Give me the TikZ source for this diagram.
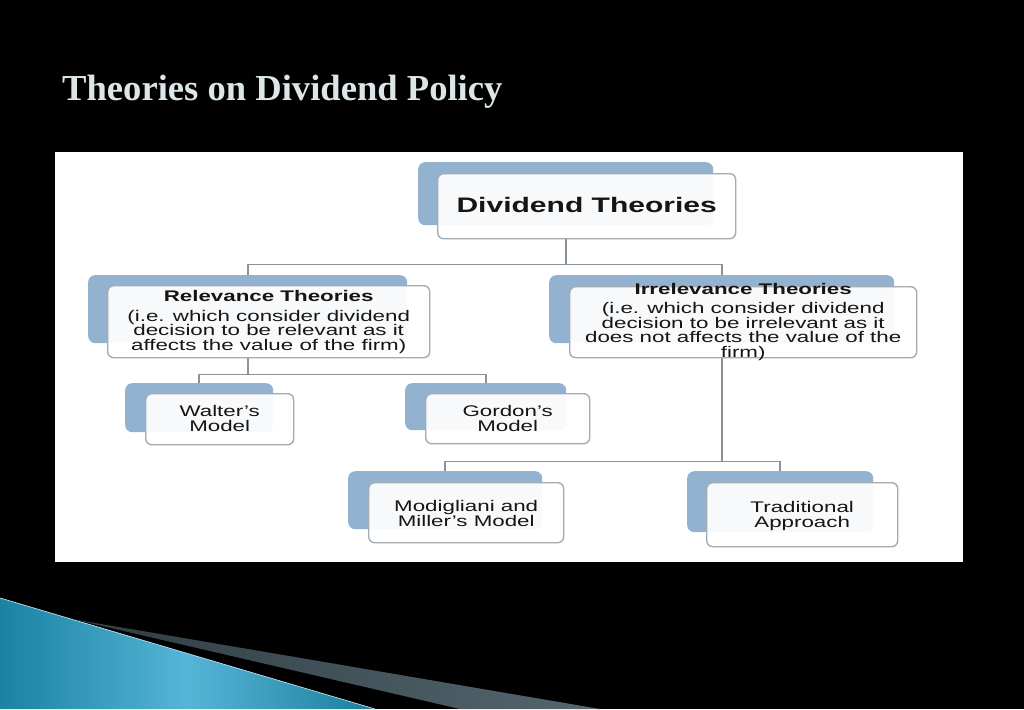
\documentclass[tikz,border=0pt]{standalone}
\usepackage{fontspec}
\newfontfamily\wfont[FakeStretch=1.45]{Liberation Sans}
\newfontfamily\wbfont[FakeStretch=1.43]{Liberation Sans}
\newfontfamily\titlefont{Liberation Serif}
\definecolor{bk}{HTML}{93B2CF}
\definecolor{fr}{HTML}{A3ABB3}
\definecolor{cn}{HTML}{8A9299}
\definecolor{txtc}{HTML}{151515}
\definecolor{ttl}{HTML}{DCE6E6}
\definecolor{tealA}{HTML}{1A82A3}
\definecolor{tealB}{HTML}{55B5D6}
\definecolor{tealC}{HTML}{1C7E9E}
\definecolor{grA}{HTML}{2E3D44}
\definecolor{grB}{HTML}{56666E}
\tikzset{
  bbox/.style={fill=bk, rounded corners=7pt, inner sep=0pt, anchor=north west, draw=none},
  frontbox/.style={draw=fr, line width=1.4pt, fill=white, fill opacity=0.93, rounded corners=6pt, inner sep=0pt, anchor=north west},
  txt/.style={align=center, text=txtc, inner sep=0pt, font=\wfont\fontsize{15.4}{14.7}\selectfont},
  conn/.style={draw=cn, line width=1.8pt}
}
\begin{document}
\begin{tikzpicture}[x=1pt,y=-1pt]
\useasboundingbox (0,0) rectangle (1024,709);
\fill[black] (0,0) rectangle (1024,709);
% title
\node[anchor=base west, inner sep=0pt, text=ttl, font=\titlefont\bfseries\fontsize{36.6}{40}\selectfont] (title) at (62,100) {Theories on Dividend Policy};
% panel
\fill[white] (55,152) rectangle (963,562);
% bottom decoration
\shade[left color=tealA, right color=tealC, middle color=tealB] (0,598) -- (375,709) -- (0,709) -- cycle;
\draw[white!60!tealB, line width=0.7pt] (0,598) -- (375,709);
\shade[left color=grA, right color=grB] (72,619) -- (600,709) -- (460,709) -- cycle;
% back boxes
\node[bbox, minimum width=295pt, minimum height=63pt] (dtb) at (418,162) {};
\node[bbox, minimum width=319pt, minimum height=68pt] (rlb) at (88,275) {};
\node[bbox, minimum width=345pt, minimum height=68pt] (irb) at (549,275) {};
\node[bbox, minimum width=148pt, minimum height=49pt] (wab) at (125,383) {};
\node[bbox, minimum width=161pt, minimum height=47pt] (gob) at (405,383) {};
\node[bbox, minimum width=194pt, minimum height=58pt] (mob) at (348,471) {};
\node[bbox, minimum width=186pt, minimum height=61pt] (trb) at (687,471) {};
% front boxes
\node[frontbox, minimum width=298pt, minimum height=65pt] (dt) at (437,173) {};
\node[frontbox, minimum width=322pt, minimum height=72pt] (rl) at (107,285) {};
\node[frontbox, minimum width=347pt, minimum height=71pt] (ir) at (569,286) {};
\node[frontbox, minimum width=148pt, minimum height=51pt] (wa) at (145,393) {};
\node[frontbox, minimum width=164pt, minimum height=50pt] (go) at (425,393) {};
\node[frontbox, minimum width=195pt, minimum height=60pt] (mo) at (368,482) {};
\node[frontbox, minimum width=191pt, minimum height=64pt] (tr) at (706,482) {};
% connectors
\draw[conn] (dtb.center |- dt.south) -- ++(0,25) coordinate (j1);
\draw[conn] (rlb.north) |- (j1) -| (irb.north);
\draw[conn] (rlb.center |- rl.south) -- ++(0,16) coordinate (j2);
\draw[conn] (wab.north) |- (j2) -| (gob.north);
\draw[conn] (irb.center |- ir.south) -- ++(0,103) coordinate (j3);
\draw[conn] (mob.north) |- (j3) -| (trb.north);
% texts
\node[txt, font=\wbfont\bfseries\fontsize{21}{22}\selectfont] (dtt) at ([yshift=1pt]dt.center) {Dividend Theories};
\node[txt] (rlt) at ([yshift=-0.5pt]rl.center) {{\bfseries Relevance Theories}\\[4.5pt](i.e. which consider dividend\\decision to be relevant as it\\affects the value of the firm)};
\node[txt] (irt) at (ir.center) {{\bfseries Irrelevance Theories}\\[4pt](i.e. which consider dividend\\decision to be irrelevant as it\\does not affects the value of the\\firm)};
\node[txt] (wat) at ([yshift=0.5pt]wa.center) {Walter’s\\Model};
\node[txt] (got) at ([yshift=0.5pt]go.center) {Gordon’s\\Model};
\node[txt] (mot) at ([yshift=-0.5pt]mo.center) {Modigliani and\\Miller’s Model};
\node[txt] (trt) at ([yshift=-1pt]tr.center) {Traditional\\Approach};
\end{tikzpicture}
\end{document}
